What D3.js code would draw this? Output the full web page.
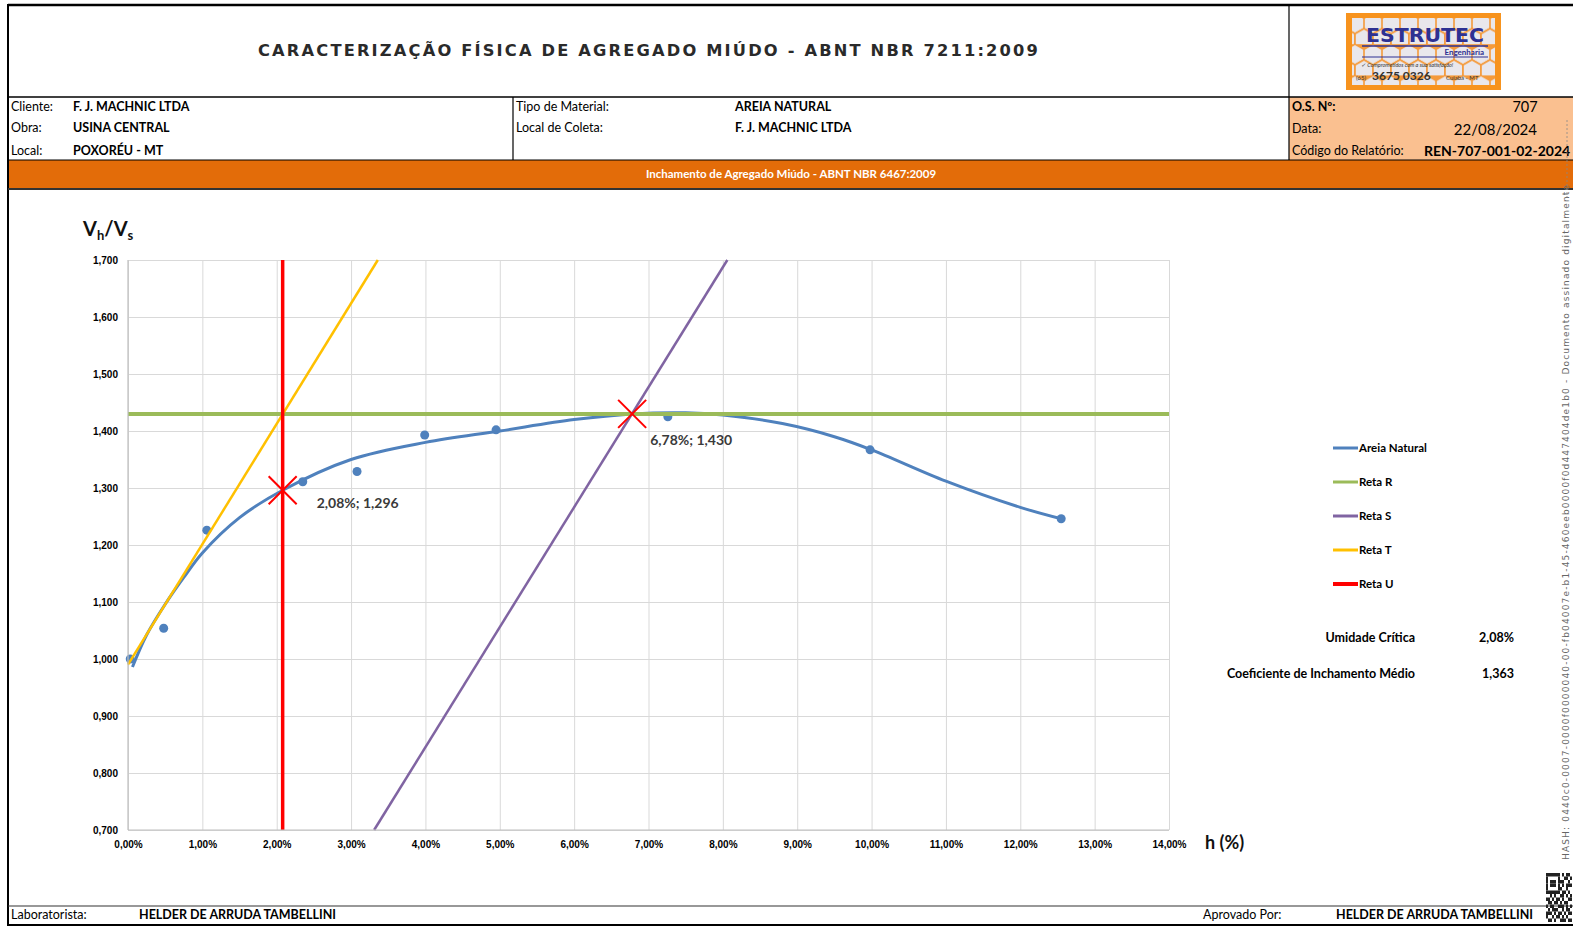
<!DOCTYPE html>
<html>
<head>
<meta charset="utf-8">
<script src="https://cdn.jsdelivr.net/npm/d3@7"></script>
<style>
  body { margin: 0; background: #fff; }
  svg { display: block; font-family: Lato, "Open Sans", sans-serif; }
  .lbl { font-size: 12.5px; fill: #000; }
  .val { font-size: 12.5px; font-weight: bold; fill: #000; }
  .tick text { font-size: 10px; font-weight: bold; fill: #000; }
</style>
</head>
<body>
<svg id="page" width="1573" height="928"></svg>
<script>
// ensaio de inchamento
const umidade = [0.03, 0.48, 1.06, 2.35, 3.08, 3.99, 4.95, 7.26, 9.98, 12.55];
const inchamento = [1.000, 1.054, 1.226, 1.311, 1.329, 1.393, 1.402, 1.425, 1.367, 1.246];

// linha de tendencia (Areia Natural) lida ponto a ponto
const trend_h = [0.06, 0.25, 0.5, 0.75, 1.0, 1.5, 2.08, 3.0, 4.0, 5.0, 6.0, 6.78, 7.5, 8.0, 8.8, 9.5, 10.0, 11.0, 12.0, 12.55];
const trend_v = [0.986, 1.042, 1.096, 1.143, 1.186, 1.248, 1.296, 1.350, 1.380, 1.400, 1.420, 1.430, 1.432, 1.428, 1.413, 1.390, 1.367, 1.312, 1.266, 1.246];

// retas auxiliares
const reta_r = [[0, 1.430], [14, 1.430]];
const reta_s = [[3.31, 0.700], [8.06, 1.700]];
const reta_t = [[0, 0.990], [3.36, 1.700]];
const reta_u = [[2.08, 0.700], [2.08, 1.700]];

const pontos_criticos = [[2.08, 1.296], [6.78, 1.430]];
const rotulos_criticos = ['2,08%; 1,296', '6,78%; 1,430'];
const rotulos_offset = [[34, 18], [18, 31]];

const x_ticks = d3.range(0, 15, 1);
const y_ticks = d3.range(0.7, 1.7001, 0.1);

const legend_names = ['Areia Natural', 'Reta R', 'Reta S', 'Reta T', 'Reta U'];
const legend_colors = ['#4f81bd', '#9bbb59', '#8064a2', '#ffc000', '#ff0000'];

const svg = d3.select('#page');

// ---------- cabecalho ----------
const hdr = svg.append('g');
hdr.append('rect').attr('x', 1289).attr('y', 97).attr('width', 290).attr('height', 63).attr('fill', '#fac090');
hdr.append('rect').attr('x', 8).attr('y', 160).attr('width', 1570).attr('height', 29).attr('fill', '#e36c09');

function line(x1, y1, x2, y2, w, c) {
    svg.append('line').attr('x1', x1).attr('y1', y1).attr('x2', x2).attr('y2', y2)
        .attr('stroke', c || '#000').attr('stroke-width', w);
}
line(8, 5, 1573, 5, 2.5);
line(8, 4, 8, 926, 2);
line(8, 97, 1573, 97, 1.5);
line(1289, 5, 1289, 160, 1.2);
line(513, 97, 513, 160, 1.2);
line(8, 160, 1573, 160, 1);
line(8, 189, 1573, 189, 2, '#333');
line(8, 906, 1573, 906, 1.2, '#333');
line(8, 925, 1573, 925, 2);

hdr.append('text').attr('x', 258).attr('y', 56)
    .attr('textLength', 782).attr('lengthAdjust', 'spacingAndGlyphs')
    .style('letter-spacing', '2px')
    .style('font-family', '"DejaVu Sans", sans-serif').style('font-size', '15px').style('font-weight', 'bold')
    .style('fill', '#2a2a2a')
    .text('CARACTERIZAÇÃO FÍSICA DE AGREGADO MIÚDO - ABNT NBR 7211:2009');

const rows_left = [['Cliente:', 'F. J. MACHNIC LTDA'], ['Obra:', 'USINA CENTRAL'], ['Local:', 'POXORÉU - MT']];
const rows_mid = [['Tipo de Material:', 'AREIA NATURAL'], ['Local de Coleta:', 'F. J. MACHNIC LTDA']];
const row_y = [111, 132, 155];
rows_left.forEach((r, i) => {
    hdr.append('text').attr('class', 'lbl').attr('x', 11).attr('y', row_y[i]).text(r[0]);
    hdr.append('text').attr('class', 'val').attr('x', 73).attr('y', row_y[i]).text(r[1]);
});
rows_mid.forEach((r, i) => {
    hdr.append('text').attr('class', 'lbl').attr('x', 516).attr('y', row_y[i]).text(r[0]);
    hdr.append('text').attr('class', 'val').attr('x', 735).attr('y', row_y[i]).text(r[1]);
});
hdr.append('text').attr('class', 'val').attr('x', 1292).attr('y', 111).text('O.S. Nº:');
hdr.append('text').attr('x', 1525).attr('y', 112).attr('text-anchor', 'middle')
    .style('font-size', '14.5px').text('707');
hdr.append('text').attr('class', 'lbl').attr('x', 1292).attr('y', 133).text('Data:');
hdr.append('text').attr('x', 1537).attr('y', 135).attr('text-anchor', 'end')
    .style('font-size', '15px').text('22/08/2024');
hdr.append('text').attr('class', 'lbl').attr('x', 1292).attr('y', 155).text('Código do Relatório:');
hdr.append('text').attr('x', 1424).attr('y', 156).style('font-size', '14px').style('font-weight', 'bold')
    .text('REN-707-001-02-2024');

hdr.append('text').attr('x', 791).attr('y', 178).attr('text-anchor', 'middle')
    .style('font-size', '11.5px').style('font-weight', 'bold').style('fill', '#fff')
    .text('Inchamento de Agregado Miúdo - ABNT NBR 6467:2009');

// logo
const defs = svg.append('defs');
const hex = defs.append('pattern').attr('id', 'hex').attr('patternUnits', 'userSpaceOnUse')
    .attr('width', 18).attr('height', 31.2).attr('x', 1346).attr('y', 13);
const hp = 'M9,0 L18,5.2 L18,15.6 L9,20.8 L0,15.6 L0,5.2 Z';
hex.append('rect').attr('width', 18).attr('height', 31.2).attr('fill', '#f59a3a');
[[0, 0], [-9, 15.6], [9, 15.6]].forEach(t => {
    hex.append('path').attr('d', hp).attr('transform', `translate(${t[0]},${t[1]})`)
        .attr('fill', '#e9e7ec').attr('stroke', '#f59a3a').attr('stroke-width', 1.6);
});
const logo = svg.append('g');
logo.append('rect').attr('x', 1346).attr('y', 13).attr('width', 155).attr('height', 77).attr('fill', '#f7931e');
logo.append('rect').attr('x', 1352).attr('y', 18).attr('width', 143).attr('height', 67).attr('fill', 'url(#hex)');
logo.append('text').attr('x', 1425).attr('y', 42).attr('text-anchor', 'middle')
    .attr('textLength', 118).attr('lengthAdjust', 'spacingAndGlyphs')
    .style('font-family', '"DejaVu Sans", sans-serif').style('font-weight', 'bold').style('font-size', '19px')
    .style('fill', '#2e3192').text('ESTRUTEC');
line(1362, 46, 1488, 46, 1.5, '#2e3192');
logo.append('text').attr('x', 1484).attr('y', 55).attr('text-anchor', 'end')
    .style('font-size', '8px').style('font-weight', 'bold').style('fill', '#2e3192').text('Engenharia');
line(1362, 57, 1488, 57, 1.2, '#2e3192');
logo.append('text').attr('x', 1361).attr('y', 67).style('font-size', '5.5px').style('font-style', 'italic')
    .style('fill', '#333').text('✓ Comprometidos com a sua satisfação!');
logo.append('text').attr('x', 1356).attr('y', 80).style('font-size', '6px').style('fill', '#333').text('(65)');
logo.append('text').attr('x', 1372).attr('y', 80).style('font-size', '12px').style('font-weight', 'bold')
    .style('fill', '#333').text('3675 0326');
logo.append('text').attr('x', 1446).attr('y', 80).style('font-size', '6px').style('fill', '#333').text('Cuiabá - MT');

// ---------- grafico ----------
const x = d3.scaleLinear().domain([0, 14]).range([128, 1169]);
const y = d3.scaleLinear().domain([0.7, 1.7]).range([830, 260]);

const chart = svg.append('g');
chart.append('g').attr('transform', 'translate(0,830)')
    .call(d3.axisBottom(x).tickValues(x_ticks).tickSize(-570).tickFormat(''))
    .call(g => g.select('.domain').remove())
    .call(g => g.selectAll('.tick line').attr('stroke', '#d9d9d9'));
chart.append('g').attr('transform', 'translate(128,0)')
    .call(d3.axisLeft(y).tickValues(y_ticks).tickSize(-1041).tickFormat(''))
    .call(g => g.select('.domain').remove())
    .call(g => g.selectAll('.tick line').attr('stroke', '#d9d9d9'));
line(128, 830, 1169, 830, 1.2, '#bfbfbf');
line(128, 260, 128, 830, 1.2, '#bfbfbf');

chart.append('g').attr('transform', 'translate(0,830)')
    .call(d3.axisBottom(x).tickValues(x_ticks).tickSize(0).tickPadding(11)
        .tickFormat(d => d.toFixed(2).replace('.', ',') + '%'))
    .call(g => g.select('.domain').remove());
chart.append('g').attr('transform', 'translate(118,0)')
    .call(d3.axisLeft(y).tickValues(y_ticks).tickSize(0).tickPadding(0)
        .tickFormat(d => d.toFixed(3).replace('.', ',')))
    .call(g => g.select('.domain').remove());

const path = d3.line().x(d => x(d[0])).y(d => y(d[1]));
const trend = trend_h.map((h, i) => [h, trend_v[i]]);
chart.append('path').datum(trend).attr('fill', 'none').attr('stroke', '#4f81bd').attr('stroke-width', 3)
    .attr('d', d3.line().x(d => x(d[0])).y(d => y(d[1])).curve(d3.curveCatmullRom));
chart.selectAll('circle.pt').data(umidade).join('circle').attr('class', 'pt')
    .attr('cx', d => x(d)).attr('cy', (d, i) => y(inchamento[i])).attr('r', 4.5).attr('fill', '#4f81bd');

chart.append('path').datum(reta_r).attr('stroke', '#9bbb59').attr('stroke-width', 4).attr('d', path);
chart.append('path').datum(reta_s).attr('stroke', '#8064a2').attr('stroke-width', 2.5).attr('d', path);
chart.append('path').datum(reta_t).attr('stroke', '#ffc000').attr('stroke-width', 2.5).attr('d', path);
chart.append('path').datum(reta_u).attr('stroke', '#ff0000').attr('stroke-width', 3.5).attr('d', path);

pontos_criticos.forEach((p, i) => {
    const cx = x(p[0]), cy = y(p[1]);
    chart.append('path').attr('d', `M${cx - 14},${cy - 14}L${cx + 14},${cy + 14}M${cx - 14},${cy + 14}L${cx + 14},${cy - 14}`)
        .attr('stroke', '#ff0000').attr('stroke-width', 2);
    chart.append('text').attr('x', cx + rotulos_offset[i][0]).attr('y', cy + rotulos_offset[i][1])
        .style('font-size', '14px').style('font-weight', 'bold').style('fill', '#3a3a3a').text(rotulos_criticos[i]);
});

// titulos dos eixos
const ylab = chart.append('text').attr('x', 83).attr('y', 236).style('font-size', '20px')
    .style('font-weight', 'bold').style('fill', '#111');
ylab.append('tspan').text('V');
ylab.append('tspan').attr('dy', 4).style('font-size', '13px').text('h');
ylab.append('tspan').attr('dy', -4).text('/V');
ylab.append('tspan').attr('dy', 4).style('font-size', '13px').text('s');
chart.append('text').attr('x', 1205).attr('y', 849).style('font-size', '18px').style('font-weight', 'bold')
    .style('fill', '#111').text('h (%)');

// legenda
const leg = chart.append('g');
legend_names.forEach((name, i) => {
    const ly = 448 + i * 34;
    leg.append('line').attr('x1', 1333).attr('x2', 1358).attr('y1', ly).attr('y2', ly)
        .attr('stroke', legend_colors[i]).attr('stroke-width', i === 4 ? 4 : 3);
    leg.append('text').attr('x', 1359).attr('y', ly + 4).style('font-size', '11.5px').style('font-weight', 'bold')
        .text(name);
});
const resumo = [['Umidade Crítica', '2,08%', 638], ['Coeficiente de Inchamento Médio', '1,363', 674]];
resumo.forEach(r => {
    leg.append('text').attr('x', 1415).attr('y', r[2] + 4).attr('text-anchor', 'end')
        .style('font-size', '12.5px').style('font-weight', 'bold').text(r[0]);
    leg.append('text').attr('x', 1514).attr('y', r[2] + 4).attr('text-anchor', 'end')
        .style('font-size', '12.5px').style('font-weight', 'bold').text(r[1]);
});

// ---------- rodape ----------
svg.append('text').attr('class', 'lbl').attr('x', 11).attr('y', 919).text('Laboratorista:');
svg.append('text').attr('class', 'val').attr('x', 139).attr('y', 919).text('HELDER DE ARRUDA TAMBELLINI');
svg.append('text').attr('class', 'lbl').attr('x', 1203).attr('y', 919).text('Aprovado Por:');
svg.append('text').attr('class', 'val').attr('x', 1336).attr('y', 919).text('HELDER DE ARRUDA TAMBELLINI');

// assinatura digital na margem
svg.append('rect').attr('x', 1558).attr('y', 191).attr('width', 15).attr('height', 675).attr('fill', '#fff');
svg.append('text').attr('transform', 'translate(1569,860) rotate(-90)')
    .attr('textLength', 675).attr('lengthAdjust', 'spacing')
    .style('font-family', '"DejaVu Sans", sans-serif').style('font-size', '9px').style('fill', '#666')
    .text('HASH: 0440c0-0007-0000f0000040-00-fb04007e-b1-45-460eeb0000f0d447404de1b0 - Documento assinado digitalmente');
svg.append('line').attr('x1', 1567).attr('y1', 120).attr('x2', 1567).attr('y2', 200)
    .attr('stroke', '#888').attr('stroke-width', 0.8).attr('stroke-dasharray', '2,2');

// qr code (decorativo)
const qr = ['1111111010110', '1000001001101', '1011101110010', '1011101010111', '1000001100100',
    '1111111011010', '0010100110101', '1101011010011', '0110110101100', '1011001110101',
    '0101110010110', '1110101101011', '1001011010100', '0110100111011'];
qr.forEach((row, r) => row.split('').forEach((c, k) => {
    if (c === '1') svg.append('rect').attr('x', 1546 + k * 2).attr('y', 873 + r * 3.5)
        .attr('width', 2).attr('height', 3.5).attr('fill', '#222');
}));
</script>
</body>
</html>
